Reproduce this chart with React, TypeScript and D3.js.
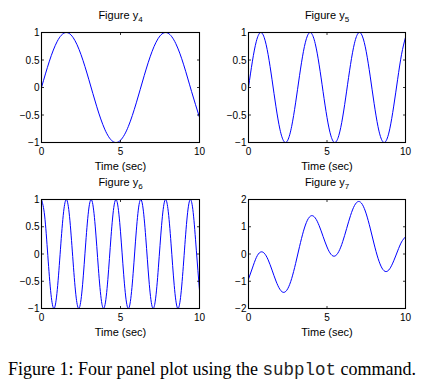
import React from "react";
import * as d3 from "d3";

const width = 442;
const height = 392;

const y4Values = [
  0, 0.479, 0.841, 0.997, 0.909, 0.598, 0.141, -0.351, -0.757, -0.978, -0.959,
  -0.706, -0.279, 0.215, 0.657, 0.938, 0.989, 0.798, 0.412, -0.075, -0.544,
];
const y5Values = [
  0, 0.479, 0.841, 0.997, 0.909, 0.598, 0.141, -0.351, -0.757, -0.978, -0.959,
  -0.706, -0.279, 0.215, 0.657, 0.938, 0.989, 0.798, 0.412, -0.075, -0.544,
  -0.88, -1.0, -0.875, -0.537, -0.066, 0.42, 0.804, 0.991, 0.935, 0.65,
  0.207, -0.288, -0.712, -0.961, -0.976, -0.751, -0.338, 0.15, 0.604, 0.913,
];
const y6Values = [
  1, 0.697, -0.029, -0.737, -0.998, -0.654, 0.087, 0.776, 0.993, 0.609, -0.146,
  -0.811, -0.985, -0.564, 0.203, 0.844, 0.973, 0.512, -0.26, -0.873, -0.958,
  -0.466, 0.316, 0.901, 0.939, 0.408, -0.371, -0.925, -0.918, -0.355, 0.424,
  0.945, 0.893, 0.299, -0.476, -0.962, -0.865, -0.242, 0.526, 0.977, 0.834,
  0.186, -0.576, -0.988, -0.801, -0.128, 0.623, 0.995, 0.764, 0.07, -0.667,
];
const y7Values = [
  -0.92, -0.513, -0.128, 0.067, 0.031, -0.213, -0.591, -0.992, -1.297, -1.409, -1.274,
  -0.901, -0.35, 0.269, 0.835, 1.238, 1.405, 1.324, 1.04, 0.645, 0.257,
  -0.01, -0.076, 0.09, 0.453, 0.934, 1.414, 1.777, 1.927, 1.82, 1.471,
  0.951, 0.366, -0.157, -0.515, -0.645, -0.54, -0.251, 0.112, 0.442, 0.629,
];

const xTicks = [0, 5, 10];
const unitTicks = [-1, -0.5, 0, 0.5, 1];
const wideTicks = [-2, -1, 0, 1, 2];

const panels = [
  { sub: "4", values: y4Values, step: 0.5, yDomain: [-1, 1], yTicks: unitTicks, x0: 41.5, x1: 199.5, y0: 32.5, y1: 142.5 },
  { sub: "5", values: y5Values, step: 0.25, yDomain: [-1, 1], yTicks: unitTicks, x0: 248.5, x1: 405.5, y0: 32.5, y1: 142.5 },
  { sub: "6", values: y6Values, step: 0.2, yDomain: [-1, 1], yTicks: unitTicks, x0: 41.5, x1: 199.5, y0: 199.5, y1: 308.5 },
  { sub: "7", values: y7Values, step: 0.25, yDomain: [-2, 2], yTicks: wideTicks, x0: 248.5, x1: 405.5, y0: 199.5, y1: 308.5 },
];

const sans = "'Liberation Sans', Arial, Helvetica, sans-serif";
const fmt = d3.format("");
const tickLen = 2.5;

function Panel({ p, idx }) {
  const x = d3.scaleLinear().domain([0, 10]).range([p.x0, p.x1]);
  const y = d3.scaleLinear().domain(p.yDomain).range([p.y1, p.y0]);
  const pts = p.values.map((v, i) => [+(i * p.step).toFixed(3), v]);
  const line = d3.line()
    .x((d) => x(d[0]))
    .y((d) => y(d[1]))
    .curve(d3.curveNatural);
  const cx = (p.x0 + p.x1) / 2;
  const clipId = `clip-${idx}`;

  return (
    <g>
      <clipPath id={clipId}>
        <rect x={p.x0} y={p.y0 - 1} width={p.x1 - p.x0} height={p.y1 - p.y0 + 2} />
      </clipPath>
      <path d={line(pts)} fill="none" stroke="#0000ff" strokeWidth={1} clipPath={`url(#${clipId})`} />

      {/* inward tick marks on all four sides */}
      {p.yTicks.map((t) => (
        <g key={`yt${t}`}>
          <line x1={p.x0} x2={p.x0 + tickLen} y1={y(t)} y2={y(t)} stroke="#000" strokeWidth={0.8} />
          <line x1={p.x1} x2={p.x1 - tickLen} y1={y(t)} y2={y(t)} stroke="#000" strokeWidth={0.8} />
          <text x={p.x0 - 2} y={y(t)} dy="0.36em" textAnchor="end" fontSize={10} fontFamily={sans} fill="#000">
            {fmt(t)}
          </text>
        </g>
      ))}
      {xTicks.map((t) => (
        <g key={`xt${t}`}>
          <line x1={x(t)} x2={x(t)} y1={p.y1} y2={p.y1 - tickLen} stroke="#000" strokeWidth={0.8} />
          <line x1={x(t)} x2={x(t)} y1={p.y0} y2={p.y0 + tickLen} stroke="#000" strokeWidth={0.8} />
          <text x={x(t)} y={p.y1 + 12.5} textAnchor="middle" fontSize={10} fontFamily={sans} fill="#000">
            {t}
          </text>
        </g>
      ))}

      <rect x={p.x0} y={p.y0} width={p.x1 - p.x0} height={p.y1 - p.y0} fill="none" stroke="#000" strokeWidth={1.1} />

      <text x={cx} y={p.y0 - 13.5} textAnchor="middle" fontSize={11} fontFamily={sans} fill="#000">
        Figure y<tspan fontSize={8} dy={3}>{p.sub}</tspan>
      </text>
      <text x={cx} y={p.y1 + 27} textAnchor="middle" fontSize={11} fontFamily={sans} fill="#000">
        Time (sec)
      </text>
    </g>
  );
}

export default function App() {
  return (
    <div style={{ position: "absolute", left: 0, top: 0 }}>
      <svg width={width} height={height} viewBox={`0 0 ${width} ${height}`} style={{ display: "block", background: "#fff" }}>
        {panels.map((p, i) => (
          <Panel key={p.sub} p={p} idx={i} />
        ))}
        <text x={8} y={374.5} fontSize={18} fontFamily="'Liberation Serif', 'Times New Roman', serif" fill="#000">
          Figure 1: Four panel plot using the{" "}
          <tspan fontFamily="'Liberation Mono', 'Courier New', monospace" fontSize={17.5} fill="#222">subplot</tspan>{" "}
          command.
        </text>
      </svg>
    </div>
  );
}
